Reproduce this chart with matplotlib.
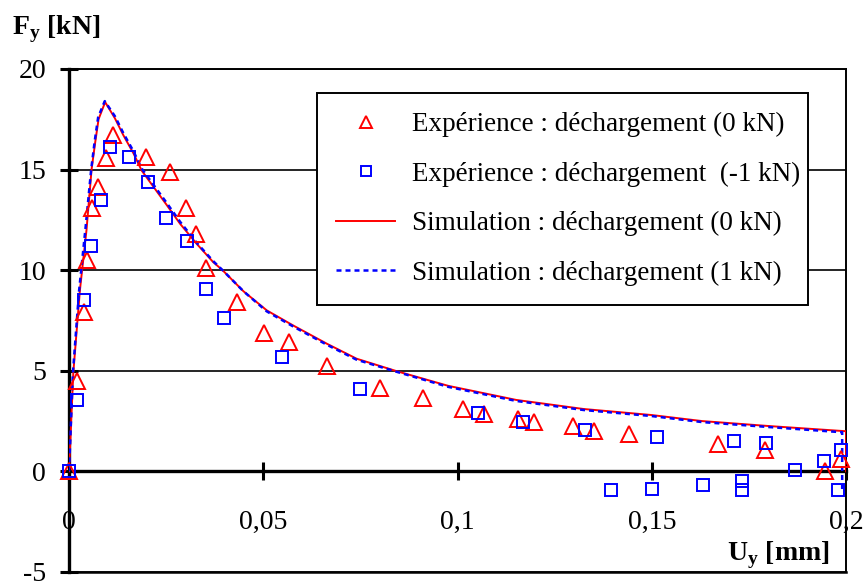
import matplotlib
matplotlib.use("Agg")
import matplotlib.pyplot as plt

plt.rcParams['font.family'] = ['Liberation Serif', 'DejaVu Serif']
plt.rcParams['mathtext.fontset'] = 'custom'
plt.rcParams['mathtext.rm'] = 'Liberation Serif'
plt.rcParams['mathtext.bf'] = 'Liberation Serif:bold'

# experiment, unloading at 0 kN (triangles)
exp0_x = [0, 0.0021, 0.0038, 0.0045, 0.0058, 0.0075, 0.0095, 0.0112, 0.0199, 0.026,
          0.0301, 0.0326, 0.0352, 0.0433, 0.0503, 0.0565, 0.0664, 0.080, 0.0911, 0.1014,
          0.1068, 0.1155, 0.1198, 0.1298, 0.135, 0.1442, 0.167, 0.1792, 0.1945, 0.1986]
exp0_y = [0, 4.5, 7.9, 10.5, 13.1, 14.15, 15.55, 16.7, 15.6, 14.9,
          13.1, 11.8, 10.1, 8.4, 6.9, 6.45, 5.25, 4.15, 3.65, 3.1,
          2.85, 2.6, 2.45, 2.25, 2.0, 1.85, 1.35, 1.05, 0.0, 0.6]

# experiment, unloading at -1 kN (squares)
exp1_x = [0, 0.002, 0.0039, 0.0056, 0.0082, 0.0106, 0.0155, 0.0204, 0.025, 0.0303,
          0.0353, 0.0398, 0.0547, 0.0748, 0.1052, 0.1168, 0.1329, 0.1394, 0.1501, 0.1514,
          0.1633, 0.1712, 0.1732, 0.1732, 0.1794, 0.1868, 0.1942, 0.1988, 0.198]
exp1_y = [0, 3.55, 8.5, 11.2, 13.5, 16.1, 15.6, 14.4, 12.6, 11.45,
          9.05, 7.6, 5.7, 4.1, 2.9, 2.45, 2.05, -0.95, -0.9, 1.7,
          -0.7, 1.5, -0.5, -0.95, 1.4, 0.05, 0.5, 1.05, -0.95]

# simulation, unloading at 0 kN
sim0_x = [0, 0.0011, 0.0028, 0.0045, 0.0058, 0.0067, 0.0076, 0.0093, 0.0118, 0.014,
          0.0166, 0.0187, 0.0217, 0.0251, 0.0286, 0.0329, 0.0371, 0.0395, 0.0449, 0.0509,
          0.0577, 0.0663, 0.074, 0.0843, 0.0976, 0.1151, 0.1324, 0.1499, 0.1629, 0.1803,
          0.1995, 0.2, 0.2]
sim0_y = [0, 4.9, 9.0, 12.0, 15.0, 16.3, 17.5, 18.35, 17.55, 16.7,
          15.8, 14.95, 14.15, 13.25, 12.3, 11.3, 10.4, 10.0, 8.95, 8.0,
          7.25, 6.35, 5.6, 4.98, 4.25, 3.55, 3.1, 2.8, 2.5, 2.25,
          2.0, 2.0, 0.0]

# simulation, unloading at 1 kN
sim1_x = [0, 0.001, 0.0026, 0.0043, 0.0057, 0.0066, 0.0075, 0.0092, 0.0118, 0.014,
          0.0166, 0.0187, 0.0217, 0.0251, 0.0286, 0.0329, 0.0371, 0.0395, 0.0449, 0.0509,
          0.0577, 0.0663, 0.074, 0.0843, 0.0976, 0.1151, 0.1324, 0.1499, 0.1629, 0.1803,
          0.1985, 0.199, 0.199]
sim1_y = [0, 4.9, 9.0, 12.2, 15.0, 16.4, 17.6, 18.4, 17.65, 16.8,
          15.9, 15.05, 14.25, 13.35, 12.4, 11.35, 10.45, 10.0, 8.95, 7.95,
          7.2, 6.3, 5.55, 4.95, 4.2, 3.5, 3.05, 2.75, 2.45, 2.2,
          1.95, 1.95, -1.0]

x_ticks = [0, 0.05, 0.1, 0.15, 0.2]
x_ticklabels = ['0', '0,05', '0,1', '0,15', '0,2']
y_ticks = [-5, 0, 5, 10, 15, 20]

labels = ['Expérience : déchargement (0 kN)',
          'Expérience : déchargement  (-1 kN)',
          'Simulation : déchargement (0 kN)',
          'Simulation : déchargement (1 kN)']

fig = plt.figure(figsize=(8.65, 5.87), dpi=100)
ax = fig.add_axes([0.0798, 0.0256, 0.8983, 0.857])

ax.plot(exp0_x, exp0_y, ls='none', marker='^', ms=11, mfc='none', mec='red',
        mew=1.4, clip_on=False, label=labels[0], zorder=4)
ax.plot(exp1_x, exp1_y, ls='none', marker='s', ms=9, mfc='none', mec='blue',
        mew=1.4, clip_on=False, label=labels[1], zorder=4)
ax.plot(sim0_x, sim0_y, color='red', lw=1.4, label=labels[2], zorder=3)
ax.plot(sim1_x, sim1_y, color='blue', lw=1.8, ls=(0, (2, 1.6)), label=labels[3], zorder=3)

ax.set_xlim(0, 0.2)
ax.set_ylim(-5, 20)
ax.set_xticks(x_ticks)
ax.set_xticklabels(x_ticklabels)
ax.set_yticks(y_ticks)
ax.set_yticklabels([str(v) for v in y_ticks])

ax.grid(axis='y', color='black', lw=1.2)
ax.set_axisbelow(True)

ax.spines['bottom'].set_position(('data', 0))
ax.spines['bottom'].set_linewidth(2.4)
ax.spines['left'].set_linewidth(2.4)
ax.spines['top'].set_linewidth(1.4)
ax.spines['right'].set_linewidth(1.4)
ax.axhline(-5, color='black', lw=1.8, clip_on=False)

ax.tick_params(axis='both', direction='inout', length=13, width=2.2, labelsize=20,
               colors='black')
ax.tick_params(axis='x', pad=21)
ax.tick_params(axis='y', pad=10)

leg = ax.legend(loc='upper left', bbox_to_anchor=(0.319, 0.545, 0.632, 0.407),
                mode='expand', fontsize=19.5,
                frameon=True, fancybox=False, edgecolor='black', framealpha=1,
                borderpad=0.7, labelspacing=0.9, handlelength=2.2,
                handletextpad=0.6, markerscale=0.8, borderaxespad=0)
leg.get_frame().set_linewidth(1.4)

fig.text(12 / 865, 1 - 34 / 587, r'F$_{\mathbf{y}}$ [kN]', fontsize=20,
         fontweight='bold', ha='left', va='baseline')
ax.text(0.979, 0.024, r'U$_{\mathbf{y}}$ [mm]', transform=ax.transAxes,
        fontsize=20, fontweight='bold', ha='right', va='baseline')

fig.savefig('out.png', dpi=100)
